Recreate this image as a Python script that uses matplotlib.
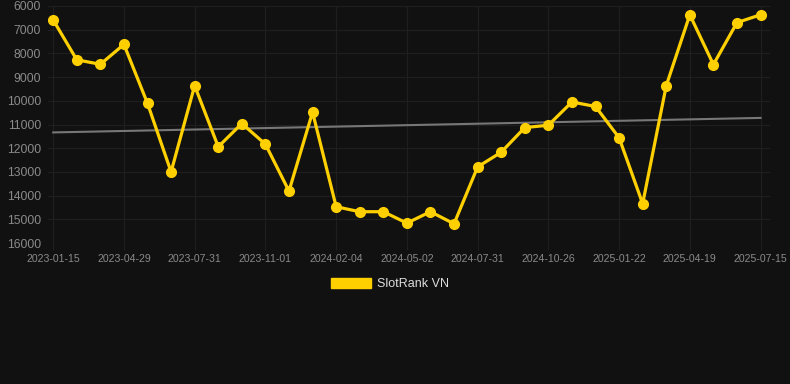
import numpy as np
import matplotlib
matplotlib.use('Agg')
import matplotlib.pyplot as plt

OUTPUT_PATH = 'out.png'

# Tanggal (sumbu kategori, label tiap 3 titik)
dates = ['2023-01-15', '2023-02-18', '2023-03-24', '2023-04-29', '2023-05-30',
         '2023-06-30', '2023-07-31', '2023-09-01', '2023-10-01', '2023-11-01',
         '2023-12-03', '2024-01-04', '2024-02-04', '2024-03-04', '2024-04-02',
         '2024-05-02', '2024-06-01', '2024-07-01', '2024-07-31', '2024-08-29',
         '2024-09-27', '2024-10-26', '2024-11-24', '2024-12-24', '2025-01-22',
         '2025-02-20', '2025-03-21', '2025-04-19', '2025-05-18', '2025-06-16',
         '2025-07-15']

rank = [6590, 8270, 8460, 7620, 10110, 13000, 9360, 11940, 10960, 11830,
        13810, 10480, 14470, 14680, 14680, 15160, 14680, 15190, 12790, 12170,
        11130, 11030, 10050, 10240, 11560, 14340, 9360, 6370, 8470, 6700,
        6370]

y_ticks = [6000, 7000, 8000, 9000, 10000, 11000, 12000, 13000, 14000, 15000, 16000]

BG = '#111111'
GOLD = '#FFD000'
GRID = '#1f1f1f'
TXT = '#8a8a8a'

plt.rcParams['font.family'] = ['Liberation Sans', 'DejaVu Sans']

x = np.arange(len(rank))
slope, intercept = np.polyfit(x, rank, 1)

fig = plt.figure(figsize=(7.9, 3.84), dpi=100, facecolor=BG)
ax = fig.add_axes([48 / 790, 1 - 243 / 384, 722 / 790, 237 / 384], facecolor=BG)

ax.plot(x, slope * x + intercept, color='#777777', lw=1.5, zorder=2)
ax.plot(x, rank, color=GOLD, lw=2.3, marker='o', ms=7, zorder=3,
        label='SlotRank VN')

ax.set_xlim(-0.22, 30.4)
ax.set_ylim(16000, 6000)
ax.set_yticks(y_ticks)
ax.set_yticklabels([str(v) for v in y_ticks])
ax.set_xticks(x[::3])
ax.set_xticklabels(dates[::3])

ax.grid(True, color=GRID, lw=0.9)
ax.set_axisbelow(True)
for s in ax.spines.values():
    s.set_visible(False)
ax.tick_params(axis='y', colors=TXT, labelsize=8.7, length=0, pad=5)
ax.tick_params(axis='x', colors=TXT, labelsize=7.6, length=5, color=GRID, pad=3)

leg = fig.legend(handles=[plt.Rectangle((0, 0), 1, 1, color=GOLD)],
                 labels=['SlotRank VN'], loc='center', bbox_to_anchor=(390 / 790, 1 - 284 / 384),
                 frameon=False, handlelength=3.2, handleheight=0.9, fontsize=9,
                 handletextpad=0.5)
for t in leg.get_texts():
    t.set_color('#dddddd')

fig.savefig(OUTPUT_PATH, dpi=100, facecolor=BG)
